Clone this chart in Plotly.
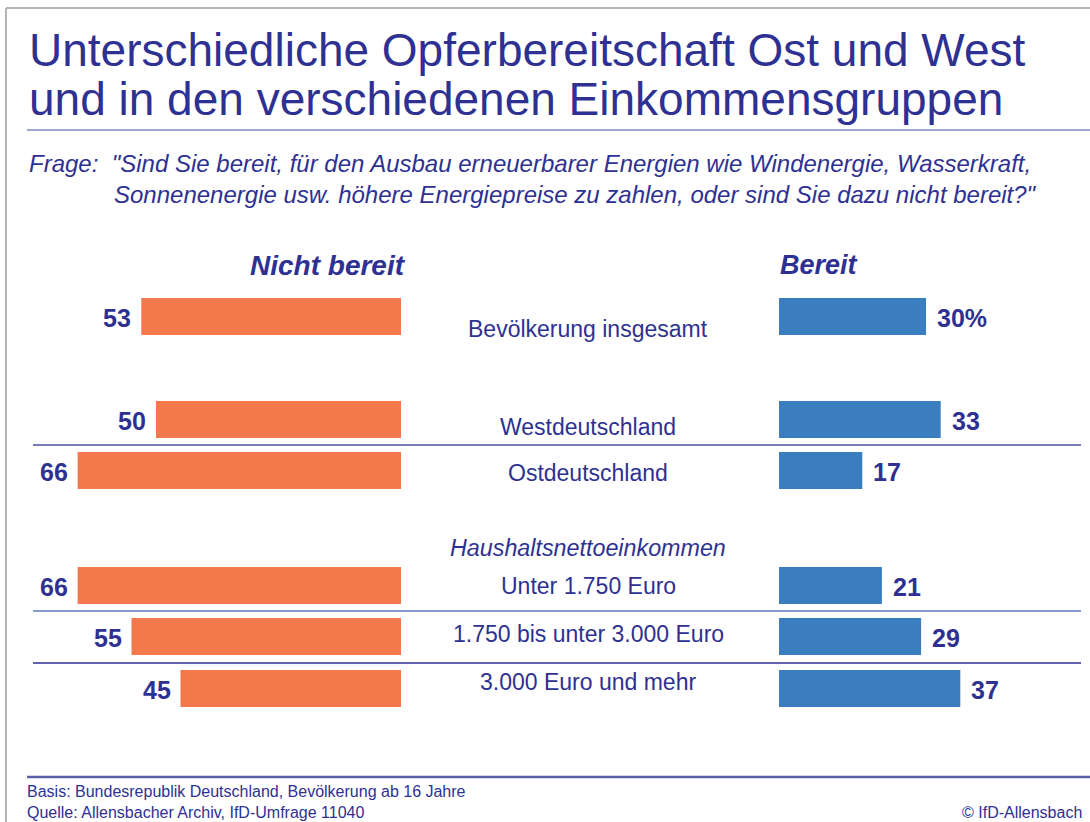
import plotly.graph_objects as go

# ---------------- data ----------------
categories = ["Bevölkerung insgesamt", "Westdeutschland", "Ostdeutschland",
              "Unter 1.750 Euro", "1.750 bis unter 3.000 Euro", "3.000 Euro und mehr"]
nicht_bereit = [53, 50, 66, 66, 55, 45]
bereit = [30, 33, 17, 21, 29, 37]
group_label = "Haushaltsnettoeinkommen"

title_lines = ["Unterschiedliche Opferbereitschaft Ost und West",
               "und in den verschiedenen Einkommensgruppen"]
question_lines = ['Frage:  "Sind Sie bereit, für den Ausbau erneuerbarer Energien wie Windenergie, Wasserkraft,',
                  'Sonnenenergie usw. höhere Energiepreise zu zahlen, oder sind Sie dazu nicht bereit?"']
footer_lines = ["Basis: Bundesrepublik Deutschland, Bevölkerung ab 16 Jahre",
                "Quelle: Allensbacher Archiv, IfD-Umfrage 11040"]
copyright_text = "© IfD-Allensbach"

# ---------------- layout constants ----------------
W, H = 1090, 822
PX = 4.9                      # pixels per percentage point
LEFT_BASE, RIGHT_BASE = 401, 779
row_y = [316.5, 419.5, 470.5, 585.5, 636.5, 688.5]
label_y = [329, 427, 473, 586, 634, 682]
BAR_W = 37

NAVY = "#2e3192"
ORANGE = "#f3784c"
BLUE = "#3a7ebf"
FONT = "Liberation Sans"


def px(x):
    return x / W


fig = go.Figure()
fig.add_trace(go.Bar(x=nicht_bereit, y=row_y, orientation="h", width=BAR_W,
                     marker=dict(color=ORANGE, line=dict(width=0)),
                     xaxis="x", yaxis="y", hoverinfo="skip", showlegend=False))
fig.add_trace(go.Bar(x=bereit, y=row_y, orientation="h", width=BAR_W,
                     marker=dict(color=BLUE, line=dict(width=0)),
                     xaxis="x2", yaxis="y", hoverinfo="skip", showlegend=False))

ann = []
# value labels
for i, (v, y) in enumerate(zip(nicht_bereit, row_y)):
    ann.append(dict(x=v, y=y, xref="x", yref="y", text=f"<b>{v}</b>", showarrow=False,
                    xanchor="right", yanchor="middle", xshift=-8, yshift=-1,
                    font=dict(size=25, color=NAVY, family=FONT)))
for i, (v, y) in enumerate(zip(bereit, row_y)):
    t = f"{v}%" if i == 0 else f"{v}"
    ann.append(dict(x=v, y=y, xref="x2", yref="y", text=f"<b>{t}</b>", showarrow=False,
                    xanchor="left", yanchor="middle", xshift=9, yshift=-1,
                    font=dict(size=25, color=NAVY, family=FONT)))
# category labels
for c, y in zip(categories, label_y):
    ann.append(dict(x=px(588), y=y, xref="paper", yref="y", text=c, showarrow=False,
                    xanchor="center", yanchor="middle",
                    font=dict(size=23, color=NAVY, family=FONT)))
ann.append(dict(x=px(588), y=548, xref="paper", yref="y", text=f"<i>{group_label}</i>",
                showarrow=False, xanchor="center", yanchor="middle",
                font=dict(size=23.3, color=NAVY, family=FONT)))
# column headers
ann.append(dict(x=px(408), y=265, xref="paper", yref="y", text="<b><i>Nicht bereit</i></b>",
                showarrow=False, xanchor="right", yanchor="middle",
                font=dict(size=28, color=NAVY, family=FONT)))
ann.append(dict(x=px(778), y=265, xref="paper", yref="y", text="<b><i>Bereit</i></b>",
                showarrow=False, xanchor="left", yanchor="middle",
                font=dict(size=27, color=NAVY, family=FONT)))
# title
for t, y in zip(title_lines, [50, 99]):
    ann.append(dict(x=px(27), y=y, xref="paper", yref="y", text=t, showarrow=False,
                    xanchor="left", yanchor="middle",
                    font=dict(size=46, color=NAVY, family=FONT)))
# question
for t, y, x in zip(question_lines, [163, 194], [27, 112]):
    ann.append(dict(x=px(x), y=y, xref="paper", yref="y", text=f"<i>{t}</i>", showarrow=False,
                    xanchor="left", yanchor="middle",
                    font=dict(size=24, color=NAVY, family=FONT)))
# footer
for t, y in zip(footer_lines, [791, 812]):
    ann.append(dict(x=px(25), y=y, xref="paper", yref="y", text=t, showarrow=False,
                    xanchor="left", yanchor="middle",
                    font=dict(size=16, color=NAVY, family=FONT)))
ann.append(dict(x=px(1084), y=812, xref="paper", yref="y", text=copyright_text, showarrow=False,
                xanchor="right", yanchor="middle",
                font=dict(size=16, color=NAVY, family=FONT)))

shapes = [
    dict(type="line", xref="paper", yref="y", x0=px(6), x1=1, y0=8, y1=8,
         line=dict(color="#b4b4b4", width=2)),
    dict(type="line", xref="paper", yref="y", x0=px(6), x1=px(6), y0=8, y1=H,
         line=dict(color="#b4b4b4", width=2)),
    dict(type="line", xref="paper", yref="y", x0=px(27), x1=1, y0=130, y1=130,
         line=dict(color="#8287c4", width=1.5)),
    dict(type="line", xref="paper", yref="y", x0=px(33), x1=px(1081), y0=445, y1=445,
         line=dict(color="#4a4f9e", width=1.5)),
    dict(type="line", xref="paper", yref="y", x0=px(33), x1=px(1081), y0=611, y1=611,
         line=dict(color="#8a9bcf", width=2)),
    dict(type="line", xref="paper", yref="y", x0=px(33), x1=px(1081), y0=663, y1=663,
         line=dict(color="#2e3192", width=1.5)),
    dict(type="line", xref="paper", yref="y", x0=px(27), x1=1, y0=777, y1=777,
         line=dict(color="#5c60a8", width=2.5)),
]

fig.update_layout(
    width=W, height=H, margin=dict(l=0, r=0, t=0, b=0),
    paper_bgcolor="white", plot_bgcolor="white",
    xaxis=dict(domain=[0, px(LEFT_BASE)], range=[LEFT_BASE / PX, 0], visible=False,
               fixedrange=True, anchor="y"),
    xaxis2=dict(domain=[px(RIGHT_BASE), 1], range=[0, (W - RIGHT_BASE) / PX], visible=False,
                fixedrange=True, anchor="y"),
    yaxis=dict(domain=[0, 1], range=[H, 0], visible=False, fixedrange=True),
    annotations=ann, shapes=shapes, showlegend=False, barmode="overlay",
    font=dict(family=FONT, color=NAVY),
)

fig.write_html("out.html", config={"displayModeBar": False},
               post_script="document.body.style.margin='0';document.body.style.overflow='hidden';")
